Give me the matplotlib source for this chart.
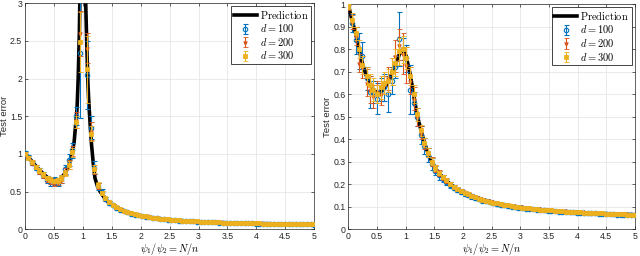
import numpy as np
import matplotlib
matplotlib.use('Agg')
import matplotlib.pyplot as plt

plt.rcParams['font.family'] = ['Liberation Sans', 'DejaVu Sans']
plt.rcParams['mathtext.fontset'] = 'cm'

# N/n sampling grid (80 points from 0 to 5)
ratio = [0.00, 0.06, 0.13, 0.19, 0.25, 0.32, 0.38, 0.44, 0.51, 0.57,
         0.63, 0.70, 0.76, 0.82, 0.89, 0.95, 1.01, 1.08, 1.14, 1.20,
         1.27, 1.33, 1.39, 1.46, 1.52, 1.58, 1.65, 1.71, 1.77, 1.84,
         1.90, 1.96, 2.03, 2.09, 2.15, 2.22, 2.28, 2.34, 2.41, 2.47,
         2.53, 2.59, 2.66, 2.72, 2.78, 2.85, 2.91, 2.97, 3.04, 3.10,
         3.16, 3.23, 3.29, 3.35, 3.42, 3.48, 3.54, 3.61, 3.67, 3.73,
         3.80, 3.86, 3.92, 3.99, 4.05, 4.11, 4.18, 4.24, 4.30, 4.37,
         4.43, 4.49, 4.56, 4.62, 4.68, 4.75, 4.81, 4.87, 4.94, 5.00]
nan = np.nan

# ---------------- left panel ----------------
pred_x_left = [0.0, 0.1, 0.2, 0.3, 0.4, 0.5, 0.6, 0.7, 0.75, 0.8, 0.85, 0.9,
               0.92, 0.94, 0.95, 0.97, 1.03, 1.05, 1.07, 1.09, 1.11, 1.13,
               1.15, 1.18, 1.21, 1.25, 1.3, 1.4, 1.5, 1.6, 1.7, 1.8, 2.0,
               2.2, 2.5, 3.0, 3.5, 4.0, 4.5, 5.0]
pred_y_left = [1.0, 0.92, 0.83, 0.75, 0.68, 0.645, 0.66, 0.75, 0.83, 0.96,
               1.16, 1.6, 2.0, 2.6, 3.1, 5.0, 5.0, 3.0, 2.4, 1.9, 1.6, 1.35,
               1.13, 0.88, 0.68, 0.58, 0.5, 0.39, 0.325, 0.28, 0.245, 0.22,
               0.18, 0.155, 0.127, 0.101, 0.087, 0.078, 0.071, 0.064]

left_d100 = [1.01, 0.96, 0.88, 0.82, 0.77, 0.72, 0.66, 0.63, 0.64, 0.62,
             0.67, 0.80, 0.92, 1.05, 1.50, 2.34, nan, 2.05, 1.35, 0.82,
             0.57, 0.49, 0.40, 0.35, 0.32, 0.285, 0.262, 0.24, 0.226, 0.21,
             0.196, 0.186, 0.176, 0.168, 0.160, 0.152, 0.146, 0.140, 0.135, 0.130,
             0.125, 0.121, 0.117, 0.115, 0.111, 0.108, 0.106, 0.103, 0.101, 0.098,
             0.096, 0.094, 0.092, 0.090, 0.089, 0.087, 0.086, 0.084, 0.083, 0.082,
             0.080, 0.079, 0.078, 0.077, 0.076, 0.075, 0.074, 0.073, 0.072, 0.071,
             0.071, 0.070, 0.069, 0.068, 0.068, 0.067, 0.066, 0.066, 0.065, 0.064]
left_d200 = [1.00, 0.95, 0.89, 0.83, 0.76, 0.71, 0.67, 0.64, 0.62, 0.63,
             0.66, 0.77, 0.86, 1.04, 1.45, 2.60, nan, 2.40, 1.30, 0.80,
             0.58, 0.48, 0.41, 0.36, 0.32, 0.29, 0.265, 0.245, 0.228, 0.212,
             0.200, 0.190, 0.179, 0.170, 0.162, 0.155, 0.148, 0.142, 0.137, 0.132,
             0.127, 0.123, 0.120, 0.116, 0.113, 0.110, 0.108, 0.105, 0.102, 0.100,
             0.098, 0.096, 0.094, 0.092, 0.090, 0.089, 0.087, 0.086, 0.084, 0.083,
             0.082, 0.081, 0.080, 0.078, 0.078, 0.077, 0.076, 0.075, 0.074, 0.073,
             0.072, 0.071, 0.070, 0.070, 0.069, 0.068, 0.067, 0.067, 0.066, 0.065]
left_d300 = [1.00, 0.95, 0.89, 0.83, 0.78, 0.73, 0.68, 0.66, 0.64, 0.65,
             0.68, 0.75, 0.85, 1.02, 1.42, 2.48, nan, 2.12, 1.27, 0.80,
             0.59, 0.48, 0.41, 0.36, 0.32, 0.29, 0.266, 0.245, 0.229, 0.213,
             0.200, 0.190, 0.180, 0.171, 0.163, 0.156, 0.149, 0.143, 0.138, 0.133,
             0.128, 0.124, 0.120, 0.117, 0.114, 0.111, 0.108, 0.105, 0.103, 0.100,
             0.098, 0.096, 0.094, 0.092, 0.091, 0.089, 0.088, 0.086, 0.085, 0.083,
             0.082, 0.081, 0.080, 0.079, 0.078, 0.077, 0.076, 0.075, 0.074, 0.073,
             0.072, 0.071, 0.070, 0.070, 0.069, 0.068, 0.067, 0.067, 0.066, 0.065]

left_err100 = [0.03, 0.03, 0.03, 0.03, 0.04, 0.04, 0.05, 0.05, 0.05, 0.05,
               0.05, 0.06, 0.08, 0.10, 0.12, 0.87, nan, 0.45, 0.15, 0.08,
               0.05, 0.04, 0.03, 0.025, 0.02, 0.02, 0.015, 0.015, 0.012, 0.012,
               0.012, 0.012, 0.011, 0.011, 0.011, 0.010, 0.010, 0.010, 0.010, 0.010,
               0.009, 0.009, 0.009, 0.009, 0.009, 0.009, 0.008, 0.008, 0.008, 0.008,
               0.008, 0.008, 0.008, 0.008, 0.008, 0.007, 0.007, 0.007, 0.007, 0.007,
               0.007, 0.007, 0.007, 0.007, 0.007, 0.007, 0.007, 0.007, 0.007, 0.007,
               0.007, 0.007, 0.007, 0.007, 0.007, 0.007, 0.007, 0.007, 0.007, 0.007]
left_err200 = [0.02, 0.02, 0.03, 0.03, 0.03, 0.03, 0.04, 0.04, 0.04, 0.04,
               0.04, 0.05, 0.06, 0.07, 0.10, 0.30, nan, 0.20, 0.12, 0.06,
               0.04, 0.03, 0.025, 0.02, 0.015, 0.015, 0.012, 0.010, 0.010, 0.010,
               0.008, 0.008, 0.008, 0.008, 0.007, 0.007, 0.007, 0.007, 0.007, 0.006,
               0.006, 0.006, 0.006, 0.006, 0.006, 0.006, 0.006, 0.005, 0.005, 0.005,
               0.005, 0.005, 0.005, 0.005, 0.005, 0.005, 0.005, 0.005, 0.005, 0.005,
               0.005, 0.005, 0.005, 0.005, 0.005, 0.005, 0.005, 0.005, 0.005, 0.005,
               0.005, 0.005, 0.005, 0.005, 0.005, 0.005, 0.005, 0.005, 0.005, 0.005]
left_err300 = [0.02, 0.02, 0.02, 0.02, 0.03, 0.03, 0.03, 0.03, 0.03, 0.03,
               0.04, 0.04, 0.05, 0.06, 0.08, 0.40, nan, 0.45, 0.10, 0.05,
               0.035, 0.03, 0.02, 0.02, 0.015, 0.012, 0.010, 0.010, 0.008, 0.008,
               0.008, 0.007, 0.007, 0.007, 0.006, 0.006, 0.006, 0.006, 0.006, 0.005,
               0.005, 0.005, 0.005, 0.005, 0.005, 0.005, 0.005, 0.005, 0.005, 0.005,
               0.004, 0.004, 0.004, 0.004, 0.004, 0.004, 0.004, 0.004, 0.004, 0.004,
               0.004, 0.004, 0.004, 0.004, 0.004, 0.004, 0.004, 0.004, 0.004, 0.004,
               0.004, 0.004, 0.004, 0.004, 0.004, 0.004, 0.004, 0.004, 0.004, 0.004]

# ---------------- right panel ----------------
pred_right = [1.00, 0.935, 0.87, 0.80, 0.735, 0.68, 0.645, 0.62, 0.605, 0.61,
              0.625, 0.655, 0.69, 0.73, 0.775, 0.80, 0.77, 0.69, 0.60, 0.51,
              0.44, 0.385, 0.34, 0.30, 0.272, 0.25, 0.232, 0.217, 0.203, 0.19,
              0.18, 0.171, 0.163, 0.156, 0.149, 0.143, 0.137, 0.132, 0.127, 0.123,
              0.119, 0.115, 0.112, 0.109, 0.106, 0.103, 0.101, 0.099, 0.097, 0.095,
              0.093, 0.091, 0.089, 0.088, 0.086, 0.085, 0.084, 0.082, 0.081, 0.080,
              0.079, 0.078, 0.077, 0.076, 0.075, 0.074, 0.073, 0.073, 0.072, 0.071,
              0.070, 0.070, 0.069, 0.068, 0.068, 0.067, 0.067, 0.066, 0.066, 0.065]
right_d100 = [0.99, 0.915, 0.84, 0.79, 0.77, 0.67, 0.61, 0.61, 0.58, 0.62,
              0.63, 0.60, 0.66, 0.72, 0.845, 0.80, 0.76, 0.62, 0.56, 0.50,
              0.42, 0.37, 0.33, 0.29, 0.26, 0.24, 0.225, 0.21, 0.197, 0.185,
              0.175, 0.168, 0.158, 0.152, 0.146, 0.139, 0.135, 0.128, 0.125, 0.120,
              0.116, 0.113, 0.109, 0.107, 0.103, 0.101, 0.099, 0.096, 0.095, 0.092,
              0.091, 0.089, 0.087, 0.086, 0.085, 0.083, 0.082, 0.081, 0.079, 0.079,
              0.077, 0.076, 0.076, 0.074, 0.074, 0.072, 0.072, 0.071, 0.071, 0.069,
              0.069, 0.068, 0.068, 0.067, 0.066, 0.066, 0.065, 0.065, 0.064, 0.064]
right_d200 = [0.985, 0.92, 0.86, 0.74, 0.72, 0.65, 0.62, 0.59, 0.61, 0.60,
              0.64, 0.67, 0.70, 0.77, 0.82, 0.78, 0.73, 0.66, 0.58, 0.50,
              0.43, 0.38, 0.34, 0.30, 0.27, 0.25, 0.23, 0.216, 0.202, 0.19,
              0.18, 0.172, 0.164, 0.157, 0.150, 0.144, 0.138, 0.133, 0.128, 0.124,
              0.120, 0.116, 0.113, 0.110, 0.107, 0.104, 0.102, 0.100, 0.098, 0.096,
              0.094, 0.092, 0.090, 0.089, 0.087, 0.086, 0.084, 0.083, 0.082, 0.081,
              0.080, 0.078, 0.077, 0.077, 0.076, 0.075, 0.074, 0.073, 0.072, 0.072,
              0.071, 0.070, 0.070, 0.069, 0.068, 0.068, 0.067, 0.067, 0.066, 0.066]
right_d300 = [0.99, 0.93, 0.87, 0.80, 0.73, 0.68, 0.64, 0.62, 0.60, 0.63,
              0.65, 0.66, 0.70, 0.74, 0.79, 0.80, 0.76, 0.68, 0.60, 0.51,
              0.44, 0.385, 0.34, 0.30, 0.272, 0.25, 0.232, 0.217, 0.203, 0.19,
              0.18, 0.171, 0.163, 0.156, 0.149, 0.143, 0.137, 0.132, 0.127, 0.123,
              0.119, 0.115, 0.112, 0.109, 0.106, 0.104, 0.101, 0.099, 0.097, 0.095,
              0.093, 0.091, 0.090, 0.088, 0.087, 0.085, 0.084, 0.083, 0.081, 0.080,
              0.079, 0.078, 0.077, 0.076, 0.075, 0.074, 0.074, 0.073, 0.072, 0.071,
              0.071, 0.070, 0.069, 0.069, 0.068, 0.067, 0.067, 0.066, 0.066, 0.065]

right_err100 = [0.01, 0.04, 0.06, 0.08, 0.06, 0.05, 0.07, 0.05, 0.07, 0.05,
                0.06, 0.08, 0.06, 0.05, 0.12, 0.05, 0.06, 0.11, 0.05, 0.04,
                0.04, 0.035, 0.03, 0.025, 0.02, 0.02, 0.015, 0.015, 0.012, 0.012,
                0.010, 0.010, 0.010, 0.009, 0.009, 0.009, 0.009, 0.008, 0.008, 0.008,
                0.008, 0.008, 0.008, 0.007, 0.007, 0.007, 0.007, 0.007, 0.007, 0.007,
                0.006, 0.006, 0.006, 0.006, 0.006, 0.006, 0.006, 0.006, 0.006, 0.006,
                0.006, 0.006, 0.006, 0.006, 0.006, 0.006, 0.006, 0.006, 0.006, 0.006,
                0.006, 0.006, 0.006, 0.006, 0.006, 0.006, 0.006, 0.006, 0.006, 0.006]
right_err200 = [0.01, 0.03, 0.04, 0.04, 0.05, 0.06, 0.06, 0.05, 0.05, 0.05,
                0.04, 0.05, 0.06, 0.07, 0.07, 0.09, 0.08, 0.06, 0.05, 0.04,
                0.03, 0.025, 0.02, 0.02, 0.015, 0.012, 0.010, 0.010, 0.009, 0.008,
                0.008, 0.007, 0.007, 0.007, 0.006, 0.006, 0.006, 0.006, 0.006, 0.005,
                0.005, 0.005, 0.005, 0.005, 0.005, 0.005, 0.005, 0.005, 0.005, 0.005,
                0.004, 0.004, 0.004, 0.004, 0.004, 0.004, 0.004, 0.004, 0.004, 0.004,
                0.004, 0.004, 0.004, 0.004, 0.004, 0.004, 0.004, 0.004, 0.004, 0.004,
                0.004, 0.004, 0.004, 0.004, 0.004, 0.004, 0.004, 0.004, 0.004, 0.004]
right_err300 = [0.01, 0.03, 0.03, 0.04, 0.04, 0.04, 0.05, 0.05, 0.04, 0.05,
                0.05, 0.05, 0.06, 0.06, 0.06, 0.06, 0.05, 0.04, 0.04, 0.03,
                0.025, 0.02, 0.02, 0.015, 0.012, 0.010, 0.009, 0.008, 0.007, 0.007,
                0.006, 0.006, 0.006, 0.005, 0.005, 0.005, 0.005, 0.005, 0.004, 0.004,
                0.004, 0.004, 0.004, 0.004, 0.004, 0.004, 0.004, 0.004, 0.004, 0.004,
                0.003, 0.003, 0.003, 0.003, 0.003, 0.003, 0.003, 0.003, 0.003, 0.003,
                0.003, 0.003, 0.003, 0.003, 0.003, 0.003, 0.003, 0.003, 0.003, 0.003,
                0.003, 0.003, 0.003, 0.003, 0.003, 0.003, 0.003, 0.003, 0.003, 0.003]

blue = '#0072BD'
orange = '#D95319'
yellow = '#EDB120'


def style_axes(ax, ylim, yticks):
    ax.set_xlim(0, 5)
    ax.set_ylim(*ylim)
    ax.set_xticks(np.arange(0, 5.01, 0.5))
    ax.set_xticklabels(['0', '0.5', '1', '1.5', '2', '2.5', '3', '3.5', '4', '4.5', '5'])
    ax.set_yticks(yticks)
    ax.set_yticklabels([('%g' % t) for t in yticks])
    ax.tick_params(direction='in', length=2.5, width=0.5, labelsize=6.3,
                   colors='#262626', pad=2, top=True, right=True)
    ax.grid(True, color='#e6e6e6', linewidth=0.6)
    ax.set_axisbelow(True)
    for s in ax.spines.values():
        s.set_color('#262626')
        s.set_linewidth(0.5)
    ax.set_xlabel(r'$\psi_1/\psi_2 = N/n$', fontsize=7.4, labelpad=0)
    ax.set_ylabel('Test error', fontsize=6.8, labelpad=1, color='#262626')


def draw_panel(ax, px, py, d100, e100, d200, e200, d300, e300):
    ax.plot(px, py, color='black', lw=2.6, label=r'$\mathrm{Prediction}$', zorder=2)
    ax.errorbar(ratio, d100, yerr=e100, fmt='o', color=blue, mfc='none', ms=3.2,
                mew=0.8, elinewidth=0.8, capsize=1.8, label=r'$d = 100$', zorder=3)
    ax.errorbar(ratio, d200, yerr=e200, fmt='*', color=orange, ms=3.0,
                mew=0.6, elinewidth=0.8, capsize=1.8, label=r'$d = 200$', zorder=4)
    ax.errorbar(ratio, d300, yerr=e300, fmt='s', color=yellow, ms=2.8,
                mew=0.6, elinewidth=0.8, capsize=1.8, label=r'$d = 300$', zorder=5)
    leg = ax.legend(loc='upper right', fontsize=7.5, frameon=True, fancybox=False,
                    edgecolor='#262626', framealpha=1, borderpad=0.25,
                    labelspacing=0.15, handlelength=2.2, handletextpad=0.3,
                    borderaxespad=0.3)
    leg.get_frame().set_linewidth(0.6)


fig = plt.figure(figsize=(6.4, 2.56), dpi=100)
ax1 = fig.add_axes([0.039, 0.104, 0.452, 0.884])
ax2 = fig.add_axes([0.544, 0.104, 0.448, 0.88])

draw_panel(ax1, pred_x_left, pred_y_left, left_d100, left_err100,
           left_d200, left_err200, left_d300, left_err300)
style_axes(ax1, (0, 3), [0, 0.5, 1, 1.5, 2, 2.5, 3])

draw_panel(ax2, ratio, pred_right, right_d100, right_err100,
           right_d200, right_err200, right_d300, right_err300)
style_axes(ax2, (0, 1), [0, 0.1, 0.2, 0.3, 0.4, 0.5, 0.6, 0.7, 0.8, 0.9, 1])

fig.savefig('out.png', dpi=100)
